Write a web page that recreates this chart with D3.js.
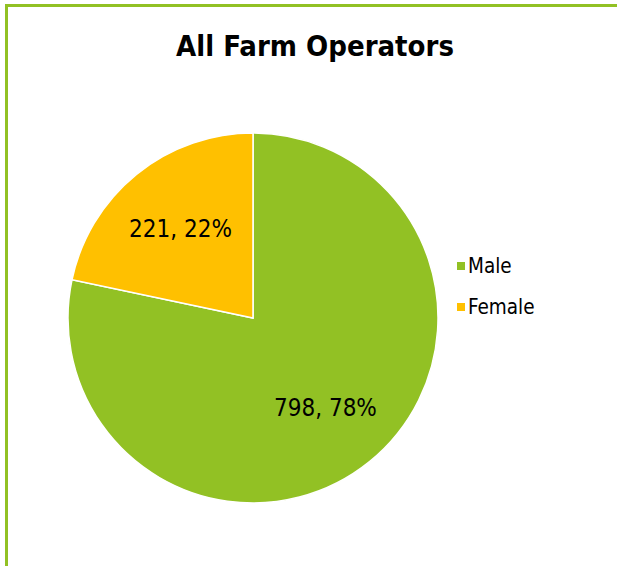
<!DOCTYPE html>
<html><head><meta charset="utf-8">
<script src="https://cdn.jsdelivr.net/npm/d3@7/dist/d3.min.js"></script>
<style>body{margin:0;background:#fff}svg{display:block}</style>
</head><body>
<svg id="c" width="617" height="566"></svg>
<script>
const categories = ["Male", "Female"];
const values = [798, 221];
const percents = ["78%", "22%"];
const colors = ["#92C124", "#FFC000"];
const title = "All Farm Operators";

const svg = d3.select("#c");
const font = "'DejaVu Sans Condensed', 'DejaVu Sans', Verdana, sans-serif";

// border (extends beyond right/bottom of view)
svg.append("rect").attr("x", 6.5).attr("y", 5.5).attr("width", 700).attr("height", 700)
  .attr("fill", "#fff").attr("stroke", "#92C124").attr("stroke-width", 3);

svg.append("text").attr("x", 315).attr("y", 56).attr("text-anchor", "middle")
  .attr("font-family", font).attr("font-weight", "bold").attr("font-size", 29)
  .attr("fill", "#000").text(title);

const cx = 253, cy = 318, r = 185;
const pie = d3.pie().sort(null).value(d => d)(values);
const arc = d3.arc().innerRadius(0).outerRadius(r);
const g = svg.append("g").attr("transform", `translate(${cx},${cy})`);
g.selectAll("path").data(pie).join("path")
  .attr("d", arc).attr("fill", (d, i) => colors[i])
  .attr("stroke", "#fff").attr("stroke-width", 1.5);

const labelArc = d3.arc().innerRadius(115).outerRadius(115);
g.selectAll("text").data(pie).join("text")
  .attr("transform", d => `translate(${labelArc.centroid(d)})`)
  .attr("text-anchor", "middle").attr("dy", "0.35em")
  .attr("font-family", font).attr("font-size", 24).attr("fill", "#000")
  .text((d, i) => `${values[i]}, ${percents[i]}`);

const lg = svg.append("g").attr("transform", "translate(457,266)");
const item = lg.selectAll("g").data(categories).join("g")
  .attr("transform", (d, i) => `translate(0,${i * 41})`);
item.append("rect").attr("x", 0).attr("y", -4).attr("width", 8).attr("height", 8)
  .attr("fill", (d, i) => colors[i]);
item.append("text").attr("x", 11).attr("dy", "0.35em")
  .attr("font-family", font).attr("font-size", 20.5).attr("fill", "#000").text(d => d);
</script>
</body></html>
